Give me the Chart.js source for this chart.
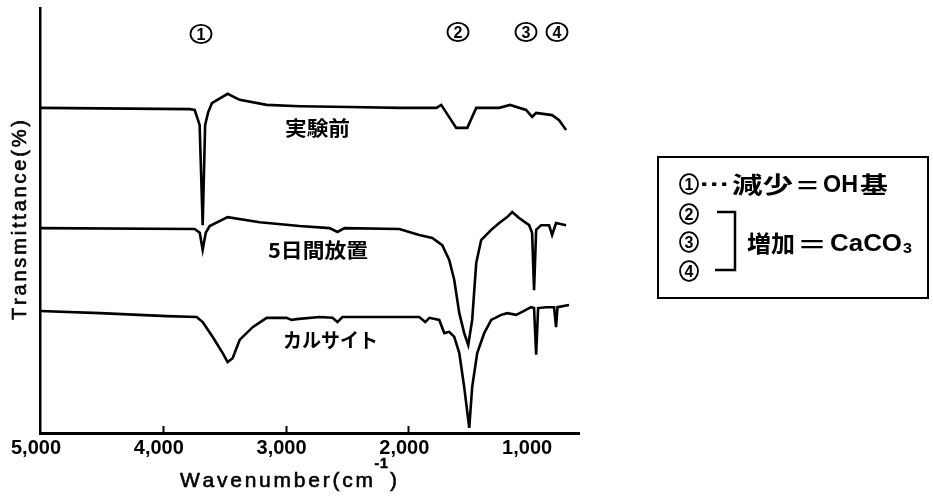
<!DOCTYPE html>
<html>
<head>
<meta charset="utf-8">
<script src="https://cdn.jsdelivr.net/npm/chart.js@4.4.1/dist/chart.umd.min.js"></script>
<style>
  html, body { margin: 0; padding: 0; background: #fff; }
  #wrap { width: 933px; height: 496px; position: relative; }
</style>
</head>
<body>
<div id="wrap"><canvas id="ir"></canvas></div>
<script>
// IR spectra: wavenumber (cm-1) and transmittance (%, arbitrary offset per trace)
const beforeWn = [5000, 3780, 3740, 3700, 3675, 3655, 3630, 3600, 3472, 3374, 3154, 2886, 2480, 2073, 1772, 1732, 1610, 1520, 1447, 1260, 1171, 1041, 992, 959, 829, 772, 715];
const beforeT  = [76.5, 76.2, 76.0, 72.5, 48.9, 72.5, 75.5, 77.6, 79.8, 78.4, 77.2, 76.9, 76.7, 76.5, 76.5, 77.2, 71.8, 71.8, 76.5, 76.5, 77.2, 76.0, 74.4, 75.3, 74.8, 73.6, 71.3];

const fiveDayWn = [5000, 3740, 3699, 3675, 3650, 3618, 3472, 3211, 2886, 2642, 2577, 2520, 2073, 1911, 1805, 1724, 1667, 1626, 1585, 1545, 1512, 1480, 1447, 1407, 1325, 1260, 1195, 1154, 1098, 1016, 992, 976, 959, 919, 854, 829, 797, 715];
const fiveDayT  = [48.2, 48.0, 47.1, 43.1, 47.1, 48.7, 50.8, 49.6, 48.7, 48.2, 47.3, 48.2, 48.0, 46.6, 45.9, 44.2, 40.7, 36.0, 28.2, 23.5, 20.7, 26.6, 40.0, 45.4, 47.8, 49.4, 50.8, 52.0, 50.6, 48.9, 47.1, 33.6, 47.8, 48.9, 48.9, 46.6, 49.4, 48.9];

const calciteWn = [5000, 4512, 3967, 3724, 3675, 3593, 3512, 3472, 3431, 3374, 3268, 3154, 2992, 2951, 2911, 2724, 2618, 2577, 2537, 1911, 1862, 1829, 1748, 1707, 1667, 1626, 1585, 1545, 1504, 1480, 1439, 1382, 1325, 1244, 1195, 1122, 1073, 1000, 976, 959, 943, 878, 813, 797, 785, 691];
const calciteT  = [28.7, 28.2, 27.5, 27.3, 26.1, 22.6, 18.8, 16.7, 17.6, 21.9, 24.9, 27.1, 27.1, 26.6, 26.8, 27.3, 27.1, 26.1, 27.3, 27.3, 26.1, 27.1, 26.6, 23.5, 23.8, 22.6, 18.8, 10.8, 1.2, 10.8, 18.8, 23.5, 26.6, 27.8, 28.2, 27.8, 28.5, 29.6, 29.4, 18.4, 29.4, 29.6, 29.6, 24.9, 29.6, 30.1];

const tickValues = [5000, 4000, 3000, 2000, 1000];
const innerTicks = [4000, 3000, 2000];

const traceLabels = ['実験前', '5日間放置', 'カルサイト'];
const peakNumbers = ['1', '2', '3', '4'];

const toPoints = (xs, ys) => xs.map((x, i) => ({ x: x, y: ys[i] }));

const CJK = '"Noto Sans CJK JP", "Noto Sans", sans-serif';
const LATIN = '"Liberation Sans", Arial, sans-serif';

// draw text squeezed/stretched horizontally into [x0, x1], vertically centred on cy
function fitText(ctx, text, x0, x1, cy, font) {
  ctx.font = font;
  const w = ctx.measureText(text).width;
  ctx.save();
  ctx.translate(x0, cy);
  ctx.scale((x1 - x0) / w, 1);
  ctx.textAlign = 'left';
  ctx.textBaseline = 'middle';
  ctx.fillText(text, 0, 0);
  ctx.restore();
}

// circled number, drawn as an ellipse with a digit inside
function circled(ctx, digit, cx, cy, rx, ry, size) {
  ctx.save();
  ctx.lineWidth = 1.8;
  ctx.beginPath();
  ctx.ellipse(cx, cy, rx, ry, 0, 0, Math.PI * 2);
  ctx.stroke();
  ctx.font = 'bold ' + size + 'px ' + LATIN;
  ctx.textAlign = 'center';
  ctx.textBaseline = 'alphabetic';
  ctx.fillText(digit, cx, cy + size * 0.36);
  ctx.restore();
}

// draw letter-spaced text between x0 and x1 on a baseline
function spacedText(ctx, segs, x0, x1, baseY) {
  const chars = [];
  segs.forEach(s => { for (const c of s.t) chars.push({ c: c, font: s.font, dy: s.dy || 0, gap: s.gap !== undefined ? s.gap : 1 }); });
  let natural = 0, gaps = 0;
  chars.forEach((ch, i) => {
    ctx.font = ch.font; ch.w = ctx.measureText(ch.c).width; natural += ch.w;
    if (i < chars.length - 1) gaps += ch.gap;
  });
  const gap = (x1 - x0 - natural) / gaps;
  let x = x0;
  ctx.textAlign = 'left';
  ctx.textBaseline = 'alphabetic';
  ctx.lineWidth = 0.6;
  chars.forEach(ch => {
    ctx.font = ch.font;
    ctx.fillText(ch.c, x, baseY + ch.dy);
    ctx.strokeText(ch.c, x, baseY + ch.dy);
    x += ch.w + gap * ch.gap;
  });
}

const annotations = {
  id: 'spectrumText',
  afterDraw(chart) {
    const ctx = chart.ctx;
    const xs = chart.scales.x;
    const area = chart.chartArea;
    ctx.save();
    ctx.fillStyle = '#000';
    ctx.strokeStyle = '#000';

    // inward tick marks on the wavenumber axis
    ctx.lineWidth = 2;
    innerTicks.forEach(v => {
      const px = Math.round(xs.getPixelForValue(v)) + 0.5;
      ctx.beginPath();
      ctx.moveTo(px, area.bottom);
      ctx.lineTo(px, area.bottom - 7);
      ctx.stroke();
    });

    // axis titles
    spacedText(ctx, [
      { t: 'Wavenumber(c', font: '21px ' + LATIN },
      { t: 'm', font: '21px ' + LATIN, gap: 0.6 },
      { t: '-', font: 'bold 14px ' + LATIN, dy: -19, gap: 0.3 },
      { t: '1', font: 'bold 14px ' + LATIN, dy: -19, gap: 0.8 },
      { t: ')', font: '21px ' + LATIN }
    ], 180, 397, 487);

    ctx.save();
    ctx.translate(26, 320);
    ctx.rotate(-Math.PI / 2);
    spacedText(ctx, [{ t: 'Transmittance(%)', font: '20px ' + LATIN }], 0, 200, 0);
    ctx.restore();

    // peak numbers above the spectra
    circled(ctx, peakNumbers[0], 201, 34, 10.5, 9.2, 16);
    circled(ctx, peakNumbers[1], 458, 32, 10.5, 9.2, 16);
    circled(ctx, peakNumbers[2], 526, 32, 10.5, 9.2, 16);
    circled(ctx, peakNumbers[3], 557, 32, 10.5, 9.2, 16);

    // trace names
    const nameFont = 'bold 20px ' + CJK;
    fitText(ctx, traceLabels[0], 285, 350, 128, nameFont);
    fitText(ctx, traceLabels[1], 268, 368, 250, nameFont);
    fitText(ctx, traceLabels[2], 283, 378, 340, nameFont);

    // key box
    ctx.lineWidth = 2;
    ctx.strokeRect(658, 157, 270, 141);
    const keyFont = 'bold 23px ' + CJK;
    const keyLatin = 'bold 24px ' + LATIN;
    circled(ctx, peakNumbers[0], 689, 184, 9, 9.8, 16);
    fitText(ctx, '···', 700, 730, 185, keyLatin);
    fitText(ctx, '減少', 732, 793, 184, keyFont);
    fitText(ctx, '＝', 795, 820, 185, keyFont);
    fitText(ctx, 'OH', 823, 858, 185, keyLatin);
    fitText(ctx, '基', 860, 888, 184, keyFont);
    circled(ctx, peakNumbers[1], 689, 214, 9, 9.8, 16);
    circled(ctx, peakNumbers[2], 689, 242, 9, 9.8, 16);
    circled(ctx, peakNumbers[3], 689, 271, 9, 9.8, 16);
    ctx.lineWidth = 2.5;
    ctx.beginPath();
    ctx.moveTo(717, 212); ctx.lineTo(735, 212); ctx.lineTo(735, 270); ctx.lineTo(715, 270);
    ctx.stroke();
    fitText(ctx, '増加', 747, 795, 243, keyFont);
    fitText(ctx, '＝', 797, 827, 244, keyFont);
    fitText(ctx, 'CaCO', 830, 902, 244, keyLatin);
    fitText(ctx, '3', 903, 912, 249, 'bold 15px ' + LATIN);

    ctx.restore();
  }
};

const lineStyle = { borderColor: '#000', borderWidth: 2.6, pointRadius: 0, showLine: true, tension: 0, fill: false };

new Chart(document.getElementById('ir'), {
  type: 'scatter',
  data: {
    datasets: [
      Object.assign({ label: traceLabels[0], data: toPoints(beforeWn, beforeT) }, lineStyle),
      Object.assign({ label: traceLabels[1], data: toPoints(fiveDayWn, fiveDayT) }, lineStyle),
      Object.assign({ label: traceLabels[2], data: toPoints(calciteWn, calciteT) }, lineStyle)
    ]
  },
  options: {
    responsive: true,
    maintainAspectRatio: false,
    animation: false,
    layout: { padding: { left: 0, top: 8, right: 354, bottom: 0 } },
    plugins: { legend: { display: false }, tooltip: { enabled: false } },
    scales: {
      x: {
        type: 'linear',
        reverse: true,
        min: 610,
        max: 5000,
        grid: { display: false, drawTicks: false },
        border: { display: true, color: '#000', width: 3 },
        afterBuildTicks: s => { s.ticks = tickValues.map(v => ({ value: v })); },
        afterFit: s => { s.height = 63; },
        ticks: {
          color: '#000',
          padding: 3,
          labelOffset: -4,
          maxRotation: 0,
          autoSkip: false,
          font: { family: 'Liberation Sans', size: 20, weight: 'bold' },
          callback: v => v.toLocaleString('en-US')
        }
      },
      y: {
        min: 0,
        max: 100,
        grid: { display: false, drawTicks: false },
        border: { display: true, color: '#000', width: 2.5 },
        ticks: { display: false },
        afterFit: s => { s.width = 40; }
      }
    }
  },
  plugins: [annotations]
});
</script>
</body>
</html>
